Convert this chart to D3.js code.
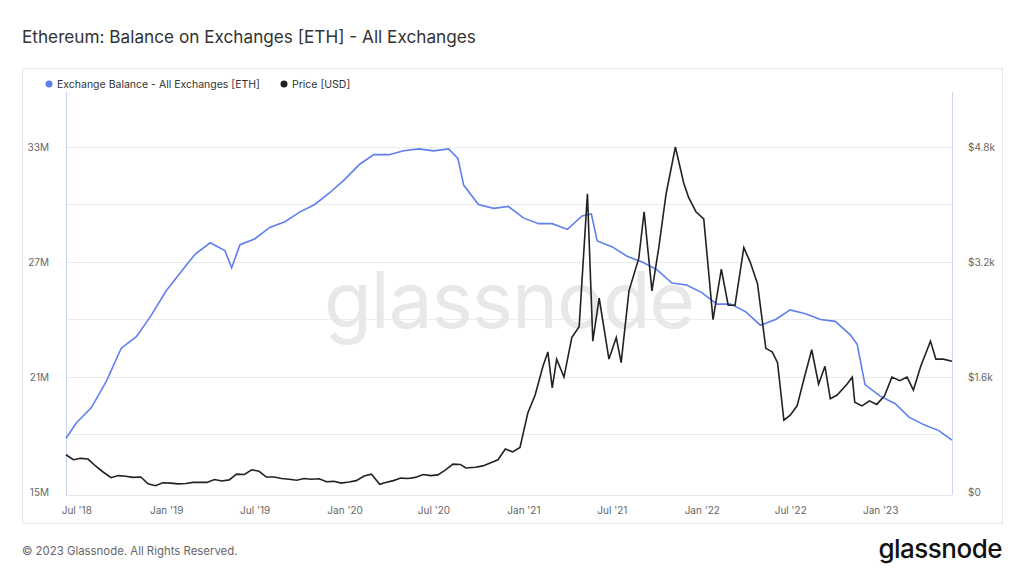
<!DOCTYPE html>
<html><head><meta charset="utf-8">
<script src="https://cdn.jsdelivr.net/npm/d3@7"></script>
<style>
body { margin: 0; background: #fff; font-family: Inter, "Noto Sans", sans-serif; }
</style></head>
<body><svg width="1024" height="576"></svg>
<script>
const balanceDates = ["2018-06-10","2018-07-01","2018-08-01","2018-09-01","2018-10-01","2018-11-01","2018-12-01","2019-01-01","2019-02-01","2019-03-01","2019-04-01","2019-05-01","2019-05-15","2019-06-01","2019-07-01","2019-08-01","2019-09-01","2019-10-01","2019-11-01","2019-12-01","2020-01-01","2020-02-01","2020-03-01","2020-04-01","2020-05-01","2020-06-01","2020-07-01","2020-08-01","2020-08-20","2020-09-01","2020-10-01","2020-11-01","2020-12-01","2021-01-01","2021-02-01","2021-03-01","2021-04-01","2021-05-01","2021-05-20","2021-06-01","2021-07-01","2021-08-01","2021-09-01","2021-10-01","2021-11-01","2021-12-01","2022-01-01","2022-02-01","2022-03-01","2022-04-01","2022-05-01","2022-06-01","2022-07-01","2022-08-01","2022-09-01","2022-10-01","2022-11-01","2022-11-15","2022-12-01","2023-01-01","2023-02-01","2023-03-01","2023-04-01","2023-05-01","2023-05-28"];
const balanceValues = [17.8,18.6,19.4,20.8,22.5,23.1,24.2,25.5,26.5,27.4,28.0,27.6,26.7,27.9,28.2,28.8,29.1,29.6,30.0,30.6,31.3,32.1,32.6,32.6,32.8,32.9,32.8,32.9,32.4,31.0,30.0,29.8,29.9,29.3,29.0,29.0,28.7,29.4,29.5,28.1,27.8,27.3,27.0,26.6,25.9,25.8,25.4,24.8,24.8,24.4,23.7,24.0,24.5,24.3,24.0,23.9,23.2,22.7,20.6,20.0,19.6,18.9,18.5,18.2,17.7];

const priceDates = ["2018-06-10","2018-06-25","2018-07-10","2018-07-25","2018-08-10","2018-08-25","2018-09-10","2018-09-25","2018-10-10","2018-10-25","2018-11-10","2018-11-25","2018-12-10","2018-12-25","2019-01-10","2019-01-25","2019-02-10","2019-02-25","2019-03-10","2019-03-25","2019-04-10","2019-04-25","2019-05-10","2019-05-25","2019-06-10","2019-06-25","2019-07-10","2019-07-25","2019-08-10","2019-08-25","2019-09-10","2019-09-25","2019-10-10","2019-10-25","2019-11-10","2019-11-25","2019-12-10","2019-12-25","2020-01-10","2020-01-25","2020-02-10","2020-02-25","2020-03-13","2020-03-25","2020-04-10","2020-04-25","2020-05-10","2020-05-25","2020-06-10","2020-06-25","2020-07-10","2020-07-25","2020-08-10","2020-08-25","2020-09-05","2020-09-25","2020-10-10","2020-10-25","2020-11-10","2020-11-25","2020-12-10","2020-12-25","2021-01-10","2021-01-25","2021-02-10","2021-02-20","2021-03-01","2021-03-10","2021-03-25","2021-04-10","2021-04-25","2021-05-12","2021-05-23","2021-06-05","2021-06-25","2021-07-10","2021-07-20","2021-08-05","2021-08-25","2021-09-05","2021-09-21","2021-10-05","2021-10-20","2021-11-08","2021-11-25","2021-12-05","2021-12-20","2022-01-05","2022-01-24","2022-02-10","2022-02-24","2022-03-10","2022-03-28","2022-04-10","2022-04-25","2022-05-12","2022-05-25","2022-06-05","2022-06-18","2022-07-01","2022-07-15","2022-08-01","2022-08-14","2022-08-28","2022-09-10","2022-09-21","2022-10-05","2022-10-25","2022-11-05","2022-11-10","2022-11-25","2022-12-10","2022-12-25","2023-01-10","2023-01-25","2023-02-10","2023-02-25","2023-03-10","2023-03-25","2023-04-14","2023-04-25","2023-05-10","2023-05-28"];
const priceValues = [520,450,470,460,360,280,200,230,220,205,210,115,90,130,125,115,120,135,135,135,175,155,170,250,245,310,290,210,210,190,180,165,190,180,185,145,150,125,140,160,225,250,110,135,160,195,190,205,245,230,240,305,390,385,335,345,365,405,450,600,560,620,1100,1350,1750,1950,1450,1850,1600,2150,2300,4150,2100,2700,1850,2150,1800,2800,3250,3900,2800,3400,4150,4800,4300,4100,3900,3800,2400,3100,2600,2600,3400,3200,2900,2000,1950,1800,1000,1070,1200,1650,1980,1500,1750,1300,1350,1500,1600,1250,1200,1270,1220,1340,1600,1550,1600,1420,1750,2100,1850,1850,1820];

const balanceTicks = [15, 21, 27, 33];
const priceTicks = [0, 1600, 3200, 4800];
const xTicks = ["2018-07-01","2019-01-01","2019-07-01","2020-01-01","2020-07-01","2021-01-01","2021-07-01","2022-01-01","2022-07-01","2023-01-01"];

const parse = d3.utcParse("%Y-%m-%d");
const balance = balanceDates.map((d, i) => ({ date: parse(d), value: balanceValues[i] }));
const price = priceDates.map((d, i) => ({ date: parse(d), value: priceValues[i] }));

const plot = { left: 66, right: 952, top: 92, bottom: 495 };
const svg = d3.select("svg");

// title, card, footer
svg.append("text").attr("x", 22).attr("y", 43).attr("font-size", 17.2).attr("fill", "#333").text("Ethereum: Balance on Exchanges [ETH] - All Exchanges");
svg.append("rect").attr("x", 22.5).attr("y", 68.5).attr("width", 980).attr("height", 455).attr("fill", "none").attr("stroke", "#e6e6e6");
svg.append("text").attr("x", 22).attr("y", 555).attr("font-size", 11.4).attr("fill", "#666").text("© 2023 Glassnode. All Rights Reserved.");
svg.append("text").attr("x", 1002).attr("y", 558).attr("text-anchor", "end").attr("font-size", 26).attr("font-weight", 500).attr("fill", "#111").attr("letter-spacing", -0.5).text("glassnode");

const x = d3.scaleUtc().domain([parse("2018-06-10"), parse("2023-05-28")]).range([plot.left, plot.right]);
const yB = d3.scaleLinear().domain([15 - 0.16, 15 + (492 - plot.top) / 115 * 6]).range([plot.bottom, plot.top]);
const yP = d3.scaleLinear().domain([0 - 40, (492 - plot.top) / 115 * 1600]).range([plot.bottom, plot.top]);

// grid lines every 3M
svg.append("g").selectAll("line").data(d3.range(18, 34, 3)).join("line")
  .attr("x1", plot.left).attr("x2", plot.right)
  .attr("y1", d => Math.round(yB(d)) + 0.5).attr("y2", d => Math.round(yB(d)) + 0.5)
  .attr("stroke", "#ececec");

// watermark
svg.append("text").attr("x", (plot.left + plot.right) / 2).attr("y", 328).attr("text-anchor", "middle")
  .attr("font-size", 78).attr("fill", "#e8e8e8").attr("letter-spacing", -1).text("glassnode");

// axes lines
svg.append("line").attr("x1", plot.left + 0.5).attr("x2", plot.left + 0.5).attr("y1", plot.top).attr("y2", plot.bottom).attr("stroke", "#c7d1f5");
svg.append("line").attr("x1", plot.right + 0.5).attr("x2", plot.right + 0.5).attr("y1", plot.top).attr("y2", plot.bottom).attr("stroke", "#d4d4ec");
svg.append("line").attr("x1", plot.left).attr("x2", plot.right).attr("y1", plot.bottom + 0.5).attr("y2", plot.bottom + 0.5).attr("stroke", "#e6e6e6");

const leftAxis = svg.append("g").attr("transform", `translate(${plot.left - 14},0)`)
  .call(d3.axisLeft(yB).tickValues(balanceTicks).tickSize(0).tickFormat(d => d + "M"));
const rightAxis = svg.append("g").attr("transform", `translate(${plot.right + 13},0)`)
  .call(d3.axisRight(yP).tickValues(priceTicks).tickSize(0).tickFormat(d => d === 0 ? "$0" : "$" + d / 1000 + "k"));
const bottomAxis = svg.append("g").attr("transform", `translate(0,${plot.bottom + 5})`)
  .call(d3.axisBottom(x).tickValues(xTicks.map(parse)).tickSize(0).tickFormat(d3.utcFormat("%b '%y")));
[leftAxis, rightAxis, bottomAxis].forEach(a => {
  a.select(".domain").remove();
  a.selectAll("text").attr("font-size", 10).attr("fill", "#666").attr("font-family", "Inter, sans-serif");
});
bottomAxis.selectAll("text").attr("dy", "1.1em");

// lines
svg.append("path").datum(balance).attr("fill", "none").attr("stroke", "#5f7fef").attr("stroke-width", 1.6)
  .attr("d", d3.line().x(d => x(d.date)).y(d => yB(d.value)));
svg.append("path").datum(price).attr("fill", "none").attr("stroke", "#222").attr("stroke-width", 1.6)
  .attr("d", d3.line().x(d => x(d.date)).y(d => yP(d.value)));

// legend
const legend = [{ label: "Exchange Balance - All Exchanges [ETH]", color: "#5f7fef", x: 49 }, { label: "Price [USD]", color: "#222", x: 284 }];
const lg = svg.append("g").selectAll("g").data(legend).join("g").attr("transform", d => `translate(${d.x},84)`);
lg.append("circle").attr("r", 3.5).attr("fill", d => d.color);
lg.append("text").attr("x", 8).attr("dy", "0.35em").attr("font-size", 10.5).attr("fill", "#333").text(d => d.label);
</script></body></html>
